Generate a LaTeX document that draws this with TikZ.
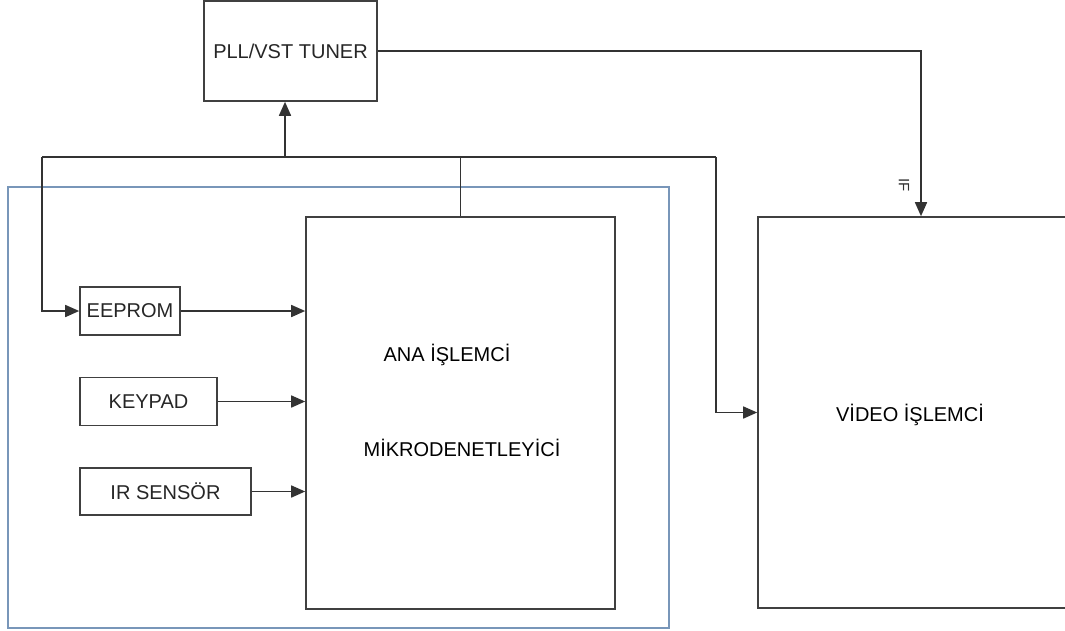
\documentclass[tikz,border=0pt]{standalone}
\usepackage{fontspec}
\setmainfont{Liberation Sans}
\usetikzlibrary{arrows.meta}
\begin{document}
\begin{tikzpicture}[x=1pt,y=-1pt,line width=1.6pt,font=\fontsize{20}{24}\selectfont,
  box/.style={draw=black!75,text=black!85,inner sep=0pt},
  wire/.style={draw=black!80},
  link/.style={draw=black!80,-{Triangle[length=14pt,width=12pt]}}]
\useasboundingbox (0,0) rectangle (1065,630);
% blue frame round the controller side
\node[draw={rgb,255:red,120;green,150;blue,185},line width=1.1pt,minimum width=661pt,minimum height=441pt] (panel) at (338.5,407.5) {};
\node[box,minimum width=173pt,minimum height=100pt] (tuner) at (290.5,51) {PLL/VST TUNER};
\node[box,minimum width=309pt,minimum height=392pt] (micro) at (460.5,413) {};
\node (anaT) at (447,355) {ANA İŞLEMCİ};
\node (mikroT) at (462,448) {MİKRODENETLEYİCİ};
\node[box,minimum width=310pt,minimum height=391pt] (video) at (913,412.5) {};
\node (videoT) at (910,415) {VİDEO İŞLEMCİ};
\node[box,minimum width=100pt,minimum height=48pt] (eeprom) at (130,311) {EEPROM};
\node[box,minimum width=137pt,minimum height=48pt] (keypad) at (148.5,401.5) {KEYPAD};
\node[box,minimum width=171pt,minimum height=47pt] (irsens) at (165.5,491.5) {IR SENSÖR};
% bus
\coordinate (busL) at (42,157);
\coordinate (busR) at (716,157);
\coordinate (tapT) at (285,157);
\draw[wire] (busL) -- (busR);
\draw[wire] (micro.north) -- (micro.north |- busL);
\draw[link] (tapT) -- (tapT |- tuner.south);
\draw[link] (busL) |- (eeprom.west);
\draw[link] (busR) |- (video.west);
% inputs to the controller
\draw[link] (eeprom.east) -- (eeprom.east -| micro.west);
\draw[link] (keypad.east) -- (keypad.east -| micro.west);
\draw[link] (irsens.east) -- (irsens.east -| micro.west);
% IF out of the tuner
\draw[link] (tuner.east) -| ([xshift=8pt]video.north);
\node[font=\fontsize{15}{18}\selectfont,text=black!80,rotate=-90] (ifL) at (904,185) {IF};
\end{tikzpicture}
\end{document}
